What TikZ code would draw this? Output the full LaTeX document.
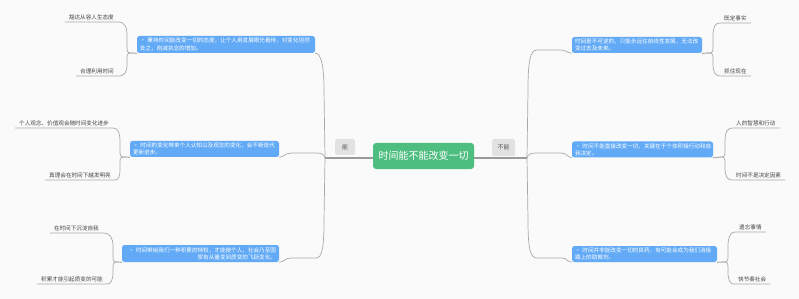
\documentclass[tikz,border=0pt]{standalone}
\usepackage{fontspec}
\setmainfont{Noto Sans CJK SC}
\definecolor{bgc}{HTML}{FAFAFA}
\definecolor{linec}{HTML}{A9A9A9}
\definecolor{mainc}{HTML}{9A9A9A}
\definecolor{bluec}{RGB}{98,170,246}
\definecolor{greenc}{RGB}{78,190,128}
\definecolor{tagc}{HTML}{E2E2E2}
\definecolor{tagtext}{HTML}{555555}
\definecolor{leafc}{HTML}{444444}
\begin{document}
\begin{tikzpicture}[x=1pt,y=-1pt,
  conn/.style={draw=linec, line width=0.7pt},
  mainline/.style={draw=mainc, line width=1.1pt},
  bluebox/.style={fill=bluec, rounded corners=2.5pt, text=white,
    font=\fontsize{5.6}{7.2}\selectfont, inner xsep=3pt, inner ysep=1.5pt, align=left},
  leaf/.style={font=\fontsize{5.6}{6.5}\selectfont, text=leafc, inner xsep=4pt, inner ysep=1.8pt},
  tag/.style={fill=tagc, text=tagtext, font=\fontsize{6}{7}\selectfont, rounded corners=1.5pt, inner sep=0pt},
  centerbox/.style={fill=greenc, text=white, rounded corners=3pt, font=\fontsize{10}{12}\selectfont,
    minimum width=101pt, minimum height=26pt, inner sep=0pt}]
\useasboundingbox[fill=bgc] (0,0) rectangle (799,299);

% central spine
\coordinate (jl) at (325,158);
\coordinate (jr) at (527,158);
\draw[mainline] (jl) -- (jr);

% central node and tags
\node[centerbox] (c) at (423.5,156) {时间能不能改变一切};
\node[tag, minimum width=20pt, minimum height=16pt] (tn) at (345,147) {能};
\node[tag, minimum width=23pt, minimum height=17pt] (tb) at (503.5,147.5) {不能};

% blue boxes
\node[bluebox, text width=172pt, minimum height=17pt] (bl1) at (226,44.5)
  {·~秉持时间能改变一切的态度，让个人用发展眼光看待，对变化坦然\\处之，削减执念的增加。};
\node[bluebox, text width=143pt, minimum height=16pt] (bl2) at (204.5,149)
  {·~时间的变化带来个人认知以及观念的变化，会不断迭代\\更新进步。};
\node[bluebox, text width=151pt, minimum height=17pt, align=right] (bl3) at (200.5,253.5)
  {·~时间带给我们一种积累的特权，才能使个人、社会乃至国\\家有从量变到质变的飞跃变化。};
\node[bluebox, text width=124pt, minimum height=16pt] (br1) at (637,45)
  {时间是不可逆的，只能永远往前线性发展，无法改\\变过去及未来。};
\node[bluebox, text width=135pt, minimum height=16pt] (br2) at (642.5,149.5)
  {·~时间不能直接改变一切，关键在于个体积极行动和自\\我决定。};
\node[bluebox, text width=139pt, minimum height=16pt] (br3) at (644.5,254)
  {·~时间并非能改变一切的良药，有可能会成为我们消极\\路上的助推剂。};

% leaves left
\node[leaf, anchor=south east] (la1) at (118,22) {豁达从容人生态度};
\node[leaf, anchor=south east] (la2) at (118,76) {合理利用时间};
\node[leaf, anchor=south east] (lb1) at (113,128) {个人观念、价值观会随时间变化进步};
\node[leaf, anchor=south east] (lb2) at (115,180) {真理会在时间下越发明亮};
\node[leaf, anchor=south east] (lc1) at (103,233) {在时间下沉淀自我};
\node[leaf, anchor=south east] (lc2) at (107,284) {积累才能引起质变的可能};
% leaves right
\node[leaf, anchor=south west] (ra1) at (720,23) {既定事实};
\node[leaf, anchor=south west] (ra2) at (720,76) {抓住现在};
\node[leaf, anchor=south west] (rb1) at (732,128) {人的智慧和行动};
\node[leaf, anchor=south west] (rb2) at (732,180) {时间不是决定因素};
\node[leaf, anchor=south west] (rc1) at (735,232) {遗忘事情};
\node[leaf, anchor=south west] (rc2) at (734,284) {快节奏社会};

% trunks
\draw[conn] (bl1.south east) .. controls (321,53) and (324,66) .. (324,90) -- (jl) -- (324,220)
  .. controls (324,248) and (322,258) .. (316,258) -- (291,258) .. controls (285,258) and (284,262) .. (bl3.south east);
\draw[conn] (jl) .. controls (324,154) and (321,153) .. (316,153) -- (292,153)
  .. controls (285,153) and (284,157) .. (bl2.south east);
\draw[conn] (br1.south west) .. controls (567,53) and (566,50) .. (561,50) -- (537,50)
  .. controls (530,50) and (528,62) .. (528,90) -- (jr) -- (528,220)
  .. controls (528,248) and (530,258) .. (537,258) -- (562,258) .. controls (567,258) and (567,262) .. (br3.south west);
\draw[conn] (jr) .. controls (528,154) and (531,153) .. (536,153) -- (561,153)
  .. controls (567,153) and (567,157) .. (br2.south west);

% left brackets
\draw[conn] (bl1.south west) -- (130,53) .. controls (127,53) and (127,50) .. (127,46) -- (127,36)
  .. controls (127,27) and (125,22) .. (la1.south east) -- (la1.south west);
\draw[conn] (bl1.south west) -- (130,53) .. controls (127,53) and (127,56) .. (127,60) -- (127,64)
  .. controls (127,72) and (125,76) .. (la2.south east) -- (la2.south west);
\draw[conn] (bl2.south west) -- (123,157) .. controls (120,157) and (120,154) .. (120,150) -- (120,142)
  .. controls (120,133) and (118,128) .. (lb1.south east) -- (lb1.south west);
\draw[conn] (bl2.south west) -- (123,157) .. controls (120,157) and (120,160) .. (120,164) -- (120,168)
  .. controls (120,176) and (119,180) .. (lb2.south east) -- (lb2.south west);
\draw[conn] (bl3.south west) -- (116,262) .. controls (113,262) and (113,259) .. (113,255) -- (113,246)
  .. controls (113,238) and (110,233) .. (lc1.south east) -- (lc1.south west);
\draw[conn] (bl3.south west) -- (116,262) .. controls (113,262) and (113,265) .. (113,269) -- (113,272)
  .. controls (113,280) and (111,284) .. (lc2.south east) -- (lc2.south west);

% right brackets
\draw[conn] (br1.south east) -- (710,53) .. controls (713,53) and (713,50) .. (713,46) -- (713,36)
  .. controls (713,27) and (715,23) .. (ra1.south west) -- (ra1.south east);
\draw[conn] (br1.south east) -- (710,53) .. controls (713,53) and (713,56) .. (713,60) -- (713,64)
  .. controls (713,72) and (715,76) .. (ra2.south west) -- (ra2.south east);
\draw[conn] (br2.south east) -- (722,157) .. controls (725,157) and (725,154) .. (725,150) -- (725,142)
  .. controls (725,133) and (727,128) .. (rb1.south west) -- (rb1.south east);
\draw[conn] (br2.south east) -- (722,157) .. controls (725,157) and (725,160) .. (725,164) -- (725,168)
  .. controls (725,176) and (727,180) .. (rb2.south west) -- (rb2.south east);
\draw[conn] (br3.south east) -- (725,262) .. controls (728,262) and (728,259) .. (728,255) -- (728,246)
  .. controls (728,238) and (730,232) .. (rc1.south west) -- (rc1.south east);
\draw[conn] (br3.south east) -- (725,262) .. controls (728,262) and (728,265) .. (728,269) -- (728,272)
  .. controls (728,280) and (730,284) .. (rc2.south west) -- (rc2.south east);
\end{tikzpicture}
\end{document}
